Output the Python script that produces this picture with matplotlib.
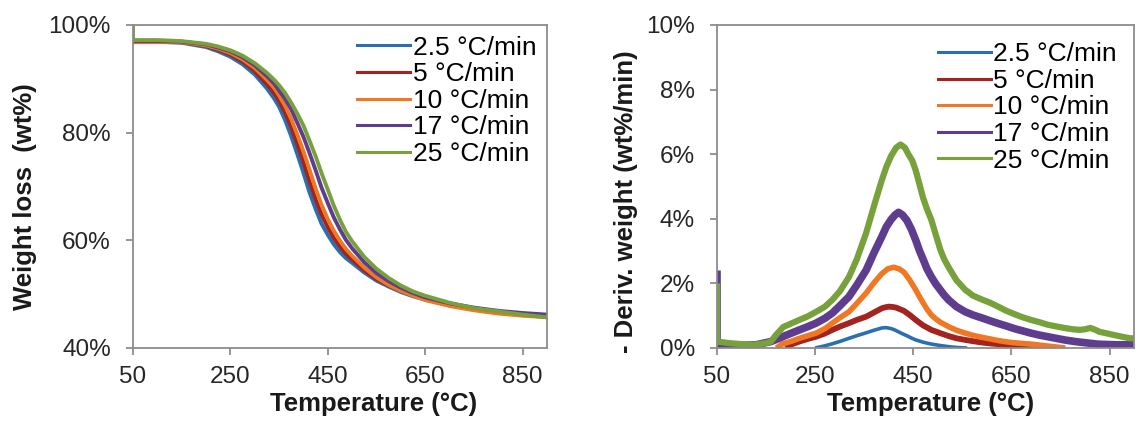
import matplotlib
matplotlib.use("Agg")
import matplotlib.pyplot as plt
from matplotlib.lines import Line2D
from matplotlib.ticker import PercentFormatter

plt.rcParams['font.family'] = ['Liberation Sans', 'DejaVu Sans']

labels = ["2.5 °C/min", "5 °C/min", "10 °C/min", "17 °C/min", "25 °C/min"]
colors = ['#2870B2', '#A3231F', '#F07822', '#5E3D8E', '#77A13B']

# TGA curves (weight %)
tga_temp = [50, 100, 150, 200, 225, 250, 275, 300, 325, 340, 350, 362, 375, 387, 400, 412, 425,
            437, 450, 462, 475, 487, 500, 525, 550, 575, 600, 625, 650, 700, 750, 800, 850, 900]
tga_25 = [96.9, 96.9, 96.7, 95.9, 95.1, 94.1, 92.7, 90.8, 88.2, 86.3, 84.8, 82.4, 79.3, 76.1, 72.5, 69.0, 65.8,
          63.1, 61.0, 59.3, 57.8, 56.7, 55.8, 54.0, 52.5, 51.4, 50.4, 49.6, 49.0, 47.9, 47.2, 46.7, 46.2, 45.9]
tga_5 = [96.9, 96.9, 96.8, 96.1, 95.4, 94.5, 93.2, 91.4, 89.0, 87.3, 85.9, 83.8, 81.0, 77.9, 74.5, 71.0, 67.6,
         64.8, 62.4, 60.5, 58.8, 57.5, 56.4, 54.4, 52.8, 51.6, 50.6, 49.8, 49.1, 48.0, 47.2, 46.6, 46.1, 45.8]
tga_10 = [96.8, 96.8, 96.8, 96.2, 95.6, 94.8, 93.6, 92.0, 89.8, 88.3, 86.9, 85.0, 82.5, 79.7, 76.5, 73.2, 69.6,
          66.6, 63.9, 61.8, 59.9, 58.4, 57.1, 54.9, 53.1, 51.7, 50.6, 49.7, 48.9, 47.8, 47.0, 46.4, 46.0, 45.7]
tga_17 = [97.0, 97.0, 96.9, 96.4, 95.8, 95.1, 94.0, 92.5, 90.5, 89.1, 87.8, 86.3, 84.3, 81.9, 79.2, 76.3, 73.0,
          69.8, 66.9, 64.3, 62.0, 60.1, 58.5, 55.9, 53.9, 52.4, 51.2, 50.2, 49.4, 48.3, 47.5, 46.9, 46.5, 46.2]
tga_temp_g = [50] + tga_temp
tga_g = [100.0, 97.2, 97.2, 97.0, 96.5, 96.0, 95.3, 94.3, 92.9, 91.1, 89.8, 88.8, 87.4, 85.5, 83.6, 81.3, 78.6, 75.6,
         72.5, 69.4, 66.5, 63.8, 61.6, 59.8, 56.9, 54.7, 53.0, 51.6, 50.5, 49.7, 48.4, 47.4, 46.8, 46.2, 45.7]

# DTG curves (wt%/min)
dtg_t_25 = [250, 268, 285, 302, 319, 337, 354, 370, 386, 395, 405, 412, 420, 428, 437, 446, 455, 470, 487,
            508, 528, 545, 560]
dtg_25 = [0.0, 0.06, 0.13, 0.21, 0.3, 0.39, 0.47, 0.55, 0.62, 0.63, 0.6, 0.56, 0.5, 0.44, 0.38, 0.31, 0.25, 0.18, 0.12,
          0.07, 0.03, 0.01, 0.0]
dtg_t_5 = [190, 200, 218, 235, 252, 270, 285, 300, 319, 335, 354, 370, 386, 393, 400, 408, 415, 423, 431, 443,
           455, 470, 487, 505, 522, 538, 556, 572, 590, 607, 623, 640, 656, 673, 690, 705, 720]
dtg_5 = [0.0, 0.1, 0.2, 0.28, 0.35, 0.45, 0.56, 0.66, 0.77, 0.87, 0.97, 1.1, 1.23, 1.26, 1.28, 1.27, 1.25, 1.2, 1.15, 1.02,
         0.87, 0.7, 0.56, 0.46, 0.37, 0.3, 0.25, 0.21, 0.17, 0.14, 0.12, 0.09, 0.07, 0.05, 0.04, 0.02, 0.0]
dtg_t_10 = [171, 184, 200, 218, 235, 252, 270, 285, 300, 319, 335, 354, 370, 386, 398, 410, 421, 431, 443, 455,
            463, 470, 478, 487, 496, 505, 522, 538, 556, 572, 590, 607, 623, 640, 656, 673, 690, 707, 724, 742, 760]
dtg_10 = [0.0, 0.13, 0.2, 0.3, 0.38, 0.46, 0.6, 0.77, 0.93, 1.12, 1.38, 1.7, 2.02, 2.3, 2.45, 2.5, 2.45, 2.35, 2.1, 1.8,
          1.58, 1.4, 1.2, 1.02, 0.9, 0.8, 0.66, 0.55, 0.46, 0.39, 0.33, 0.28, 0.23, 0.19, 0.16, 0.14, 0.12, 0.09, 0.06,
          0.03, 0.0]
dtg_t_17 = [50, 50, 130, 145, 160, 172, 184, 200, 218, 235, 252, 270, 285, 300, 319, 335, 354, 370, 386, 395, 405,
            413, 420, 428, 437, 446, 455, 463, 470, 478, 487, 496, 505, 513, 522, 538, 556, 572, 590, 607, 623, 640,
            656, 673, 690, 707, 724, 741, 758, 775, 790, 808, 825, 860, 900]
dtg_17 = [2.4, 0.05, 0.1, 0.15, 0.2, 0.27, 0.35, 0.45, 0.56, 0.66, 0.77, 0.92, 1.08, 1.3, 1.59, 1.95, 2.41, 2.95, 3.45,
          3.75, 3.98, 4.12, 4.2, 4.12, 3.95, 3.68, 3.34, 3.0, 2.75, 2.45, 2.2, 1.98, 1.8, 1.64, 1.49, 1.28, 1.12, 1.02,
          0.93, 0.84, 0.76, 0.68, 0.6, 0.53, 0.46, 0.4, 0.35, 0.3, 0.25, 0.21, 0.18, 0.15, 0.12, 0.1, 0.1]
dtg_t_g = [50, 50, 75, 100, 125, 150, 160, 170, 185, 200, 218, 235, 252, 270, 285, 300, 319, 335, 354, 370, 386,
           395, 405, 415, 424, 433, 440, 448, 455, 463, 470, 478, 487, 496, 505, 513, 522, 538, 556, 572, 590, 607,
           623, 640, 656, 673, 690, 707, 724, 741, 758, 775, 790, 800, 811, 820, 830, 845, 860, 875, 892, 900]
dtg_g = [2.0, 0.2, 0.15, 0.12, 0.1, 0.15, 0.2, 0.4, 0.65, 0.75, 0.87, 0.98, 1.12, 1.28, 1.49, 1.75, 2.2, 2.75, 3.56,
         4.4, 5.2, 5.6, 5.95, 6.2, 6.3, 6.2, 6.0, 5.8, 5.5, 5.05, 4.65, 4.3, 3.96, 3.5, 3.05, 2.75, 2.5, 2.1, 1.8,
         1.62, 1.5, 1.4, 1.28, 1.15, 1.05, 0.95, 0.87, 0.8, 0.72, 0.67, 0.62, 0.58, 0.56, 0.58, 0.62, 0.57, 0.5, 0.45,
         0.4, 0.35, 0.3, 0.3]

xticks = [50, 250, 450, 650, 850]

fig = plt.figure(figsize=(11.41, 4.25), dpi=100)
ax1 = fig.add_axes([0.1166, 0.1812, 0.3628, 0.76])
ax2 = fig.add_axes([0.6284, 0.1812, 0.3655, 0.76])

tga = [(tga_temp, tga_25), (tga_temp, tga_5), (tga_temp, tga_10), (tga_temp, tga_17), (tga_temp_g, tga_g)]
for (t, w), c in zip(tga, colors):
    ax1.plot(t, w, color=c, lw=2.8, solid_capstyle='butt')

dtg = [(dtg_t_25, dtg_25), (dtg_t_5, dtg_5), (dtg_t_10, dtg_10), (dtg_t_17, dtg_17), (dtg_t_g, dtg_g)]
widths = [2.6, 4.2, 4.0, 5.5, 4.5]
for (t, d), c, lw in zip(dtg, colors, widths):
    ax2.plot(t, d, color=c, lw=lw, solid_capstyle='butt')

for ax, pad in ((ax1, 0.0), (ax2, 0.25)):
    ax.set_xlim(50, 900)
    ax.set_xticks(xticks)
    for s in ax.spines.values():
        s.set_color('#8c8c8c')
        s.set_linewidth(1.3)
    ax.tick_params(axis='both', colors='#8c8c8c', labelcolor='#262626', labelsize=17.5,
                   length=5, width=1.3, direction='out')
    ax.tick_params(axis='y', pad=11)
    ax.tick_params(axis='x', pad=8)
    handles = [Line2D([], [], color=c, lw=2.2) for c in colors]
    ax.legend(handles, labels, loc='upper right', frameon=False, fontsize=19,
              handlelength=2.0, handletextpad=0.1, labelspacing=0.1, borderaxespad=pad)

ax1.set_ylim(40, 100)
ax1.set_yticks([40, 60, 80, 100])
ax1.yaxis.set_major_formatter(PercentFormatter(100, decimals=0))
ax2.set_ylim(0, 10)
ax2.set_yticks([0, 2, 4, 6, 8, 10])
ax2.yaxis.set_major_formatter(PercentFormatter(100, decimals=0))

ax1.set_xlabel("Temperature (°C)", fontsize=18.5, fontweight='bold', color='#1a1a1a')
ax2.set_xlabel("Temperature (°C)", fontsize=18.5, fontweight='bold', color='#1a1a1a')
ax1.xaxis.set_label_coords(0.58, -0.136)
ax2.xaxis.set_label_coords(0.513, -0.136)
ax1.set_ylabel("Weight loss  (wt%)", fontsize=18.5, fontweight='bold', color='#1a1a1a')
ax2.set_ylabel("- Deriv. weight (wt%/min)", fontsize=18.5, fontweight='bold', color='#1a1a1a')
ax1.yaxis.set_label_coords(-0.232, 0.47)
ax2.yaxis.set_label_coords(-0.19, 0.452)

fig.savefig("out.png", dpi=100)
